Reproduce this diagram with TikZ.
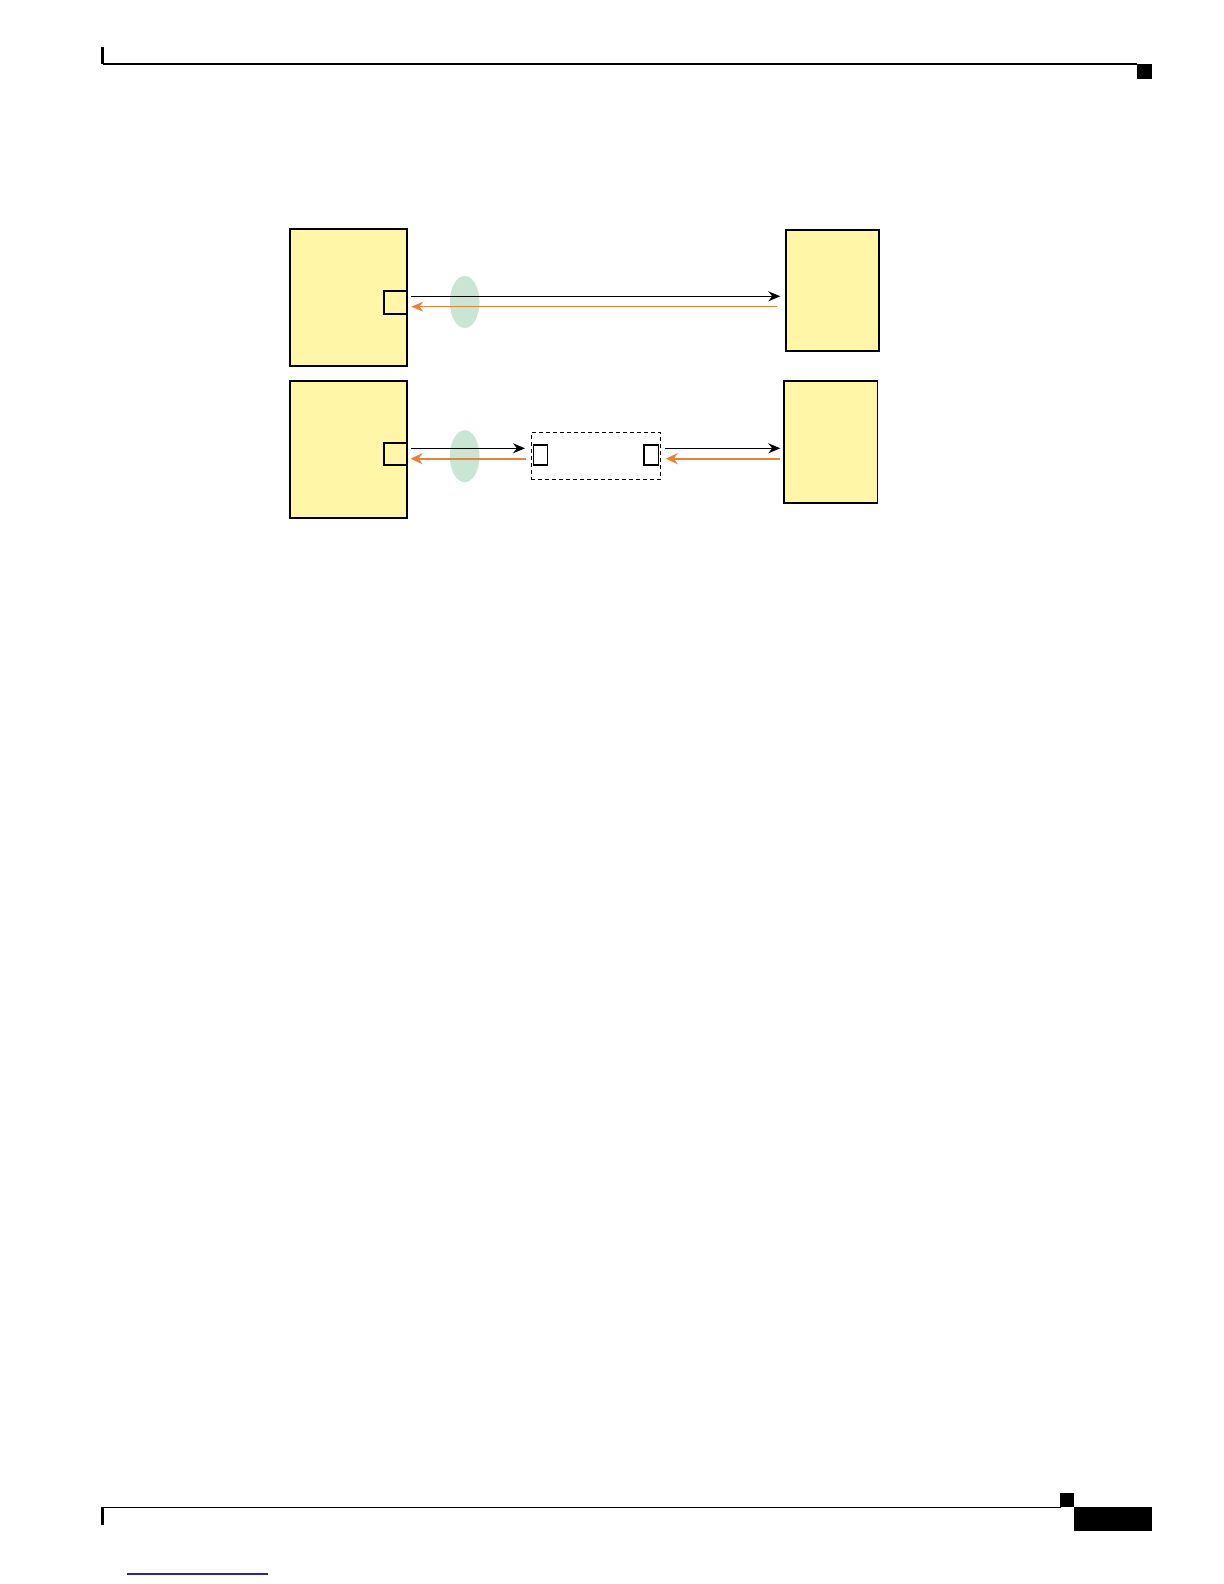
\documentclass[tikz,border=0pt]{standalone}
\usetikzlibrary{arrows.meta,shapes.geometric}
\definecolor{boxyellow}{RGB}{255,246,168}
\definecolor{lensgreen}{RGB}{201,230,212}
\definecolor{txorange}{RGB}{232,130,56}
\definecolor{linkblue}{RGB}{40,40,160}
\begin{document}
\begin{tikzpicture}[x=0.5pt,y=-0.5pt,
  devbox/.style={draw=black, line width=0.65pt, fill=boxyellow, inner sep=0pt, anchor=north west},
  portbox/.style={draw=black, line width=0.65pt, inner sep=0pt, anchor=north west},
  lens/.style={ellipse, fill=lensgreen, draw=none, inner sep=0pt},
  dashbox/.style={draw=black, line width=0.5pt, inner sep=0pt, anchor=north west, dash pattern=on 2pt off 1.5pt},
  blkarrow/.style={draw=black, line width=0.65pt, -{Stealth[length=6pt,width=5pt]}},
  orgthin/.style={draw=txorange, line width=0.6pt, -{Stealth[length=6pt,width=5pt]}},
  orgthick/.style={draw=txorange, line width=1.2pt, -{Stealth[length=6pt,width=5.5pt]}}
]
\useasboundingbox (0,0) rectangle (1224,1584);

% page header / footer rules
\draw[line width=0.75pt] (102.5,64) -- (1137,64);
\fill (101,46.7) rectangle (104,64.5);
\fill (1137,64) rectangle (1152,79.3);
\draw[line width=0.75pt] (102.5,1507.3) -- (1061,1507.3);
\fill (101,1507) rectangle (104,1524.7);
\fill (1060,1493) rectangle (1074,1507.3);
\fill (1074,1507) rectangle (1152,1531);
\draw[linkblue, line width=0.6pt] (127,1574) -- (268,1574);

% lenses
\node[lens, minimum width=14.85pt, minimum height=26pt] (lens1) at (464.7,302) {};
\node[lens, minimum width=14.85pt, minimum height=26pt] (lens2) at (464.7,456.2) {};

% devices
\node[devbox, minimum width=58.5pt, minimum height=68.5pt] (TL) at (289.3,228.3) {};
\node[devbox, minimum width=46.5pt, minimum height=60.5pt] (TR) at (785.3,229.3) {};
\node[devbox, minimum width=58.5pt, minimum height=68.5pt] (BL) at (289.3,380.3) {};
\node[devbox, minimum width=46.7pt, minimum height=61pt] (BR) at (783.3,380.3) {};

% ports
\node[portbox, minimum width=11.5pt, minimum height=11.5pt] (P1) at (383.4,290.3) {};
\node[portbox, minimum width=11.5pt, minimum height=11pt] (P2) at (383.4,442.3) {};

% intermediate device
\node[dashbox, minimum width=64.65pt, minimum height=23.5pt] (MID) at (530.6,432.3) {};
\node[portbox, minimum width=7.1pt, minimum height=10pt] (MA) at (532.6,444.3) {};
\node[portbox, minimum width=7.1pt, minimum height=10pt] (MB) at (643.4,444.3) {};

% rows
\coordinate (r1a) at (0,296.3);
\coordinate (r1b) at (0,306.7);
\coordinate (r2a) at (0,448.3);
\coordinate (r2b) at (0,458.7);

% top link
\draw[blkarrow, shorten <=1.8pt, shorten >=2.5pt] (P1.east |- r1a) -- (TR.west |- r1a);
\draw[orgthin, shorten <=4pt, shorten >=1.8pt] (TR.west |- r1b) -- (P1.east |- r1b);

% bottom link
\draw[blkarrow, shorten <=1.8pt, shorten >=2.8pt] (P2.east |- r2a) -- (MID.west |- r2a);
\draw[orgthick, shorten <=2.4pt, shorten >=1.4pt] (MID.west |- r2b) -- (P2.east |- r2b);
\draw[blkarrow, shorten <=1.8pt, shorten >=1.5pt] (MID.east |- r2a) -- (BR.west |- r2a);
\draw[orgthick, shorten <=1.5pt, shorten >=2.4pt] (BR.west |- r2b) -- (MID.east |- r2b);
\end{tikzpicture}
\end{document}
